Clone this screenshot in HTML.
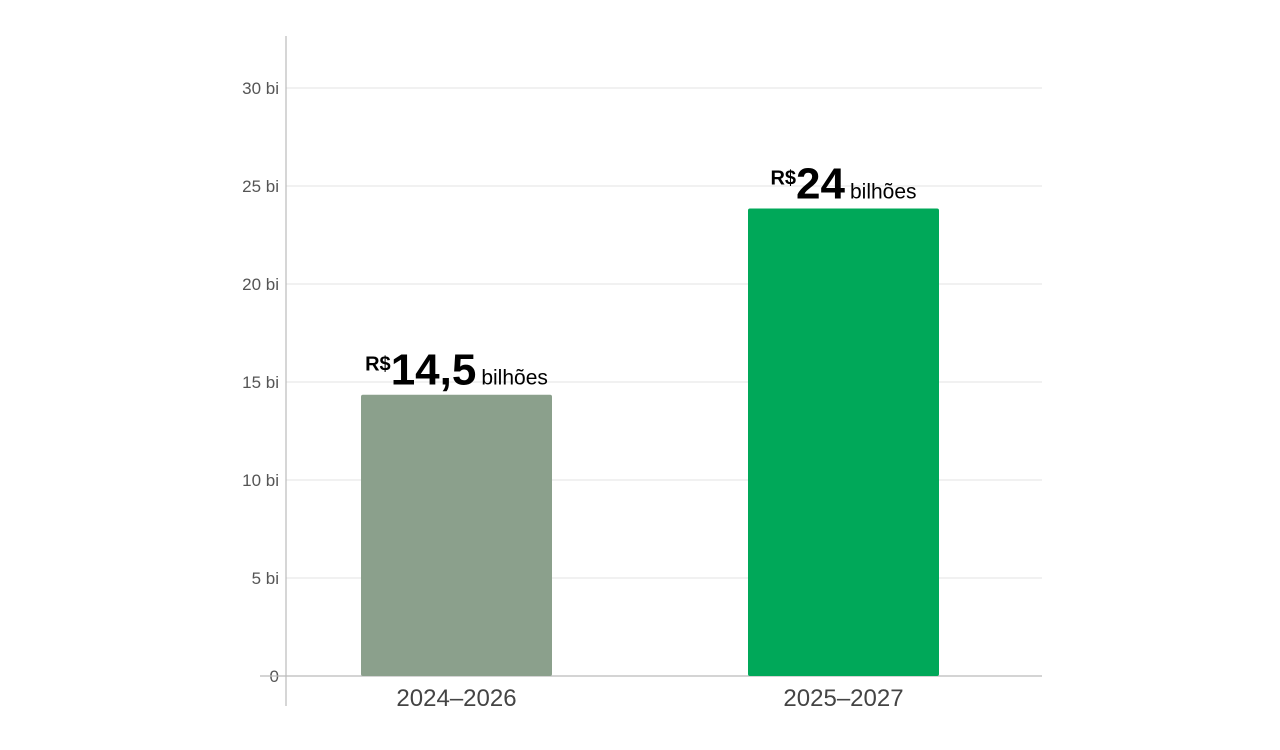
<!DOCTYPE html>
<html><head><meta charset="utf-8"><style>
body{margin:0;background:#fff;font-family:"Liberation Sans",sans-serif}
svg{display:block}
</style></head><body>
<svg id="chart" width="1280" height="750" xmlns="http://www.w3.org/2000/svg"></svg>
<script>
const categories=["2024–2026","2025–2027"];
const values=[14.35,23.85];
const valueLabels=["14,5","24"];
const tickValues=[0,5,10,15,20,25,30];
const tickLabels=["0","5 bi","10 bi","15 bi","20 bi","25 bi","30 bi"];
const colors=["#8ba08c","#00a859"];
const svg=document.getElementById('chart');
const NS="http://www.w3.org/2000/svg";
const y0=676,yTop=88,vMax=30;
const y=v=>y0-(y0-yTop)*v/vMax;
const bandX=i=>[361,748][i];
const bw=191;
function el(t,a,txt){const e=document.createElementNS(NS,t);for(const k in a)e.setAttribute(k,a[k]);if(txt!=null)e.textContent=txt;svg.appendChild(e);return e;}
tickValues.forEach((v,i)=>{
 if(v>0){const g=el('line',{x1:286,x2:1042,y1:y(v),y2:y(v),stroke:'#e3e3e3','stroke-width':1});
 }
 const t=el('text',{x:279,y:y(v)+6,'text-anchor':'end','font-size':17,fill:'#555'},tickLabels[i]);
 
});
const ax=el('line',{x1:286,x2:286,y1:36,y2:706,stroke:'#bbb','stroke-width':1.2});

const bl=el('line',{x1:260,x2:1042,y1:y0,y2:y0,stroke:'#bbb','stroke-width':1.2});

values.forEach((v,i)=>{
 const x=bandX(i);
 const r=el('rect',{x:x,y:y(v),width:bw,height:y0-y(v),rx:2,fill:colors[i]});
 
 const c=el('text',{x:x+bw/2,y:706,'text-anchor':'middle','font-size':24,fill:'#444'},categories[i]);
 
 const t=el('text',{x:x+bw/2,y:y(v)-10,'text-anchor':'middle',fill:'#000','font-weight':'bold'});
 
 const s1=document.createElementNS(NS,'tspan');s1.setAttribute('font-size',20);s1.setAttribute('dy',-14);s1.textContent='R$';
 const s2=document.createElementNS(NS,'tspan');s2.setAttribute('font-size',44);s2.setAttribute('dy',14);s2.textContent=valueLabels[i];
 const s3=document.createElementNS(NS,'tspan');s3.setAttribute('font-size',21);s3.setAttribute('font-weight','normal');s3.setAttribute('dx',5);s3.textContent='bilhões';
 t.appendChild(s1);t.appendChild(s2);t.appendChild(s3);
});
</script>
</body></html>
